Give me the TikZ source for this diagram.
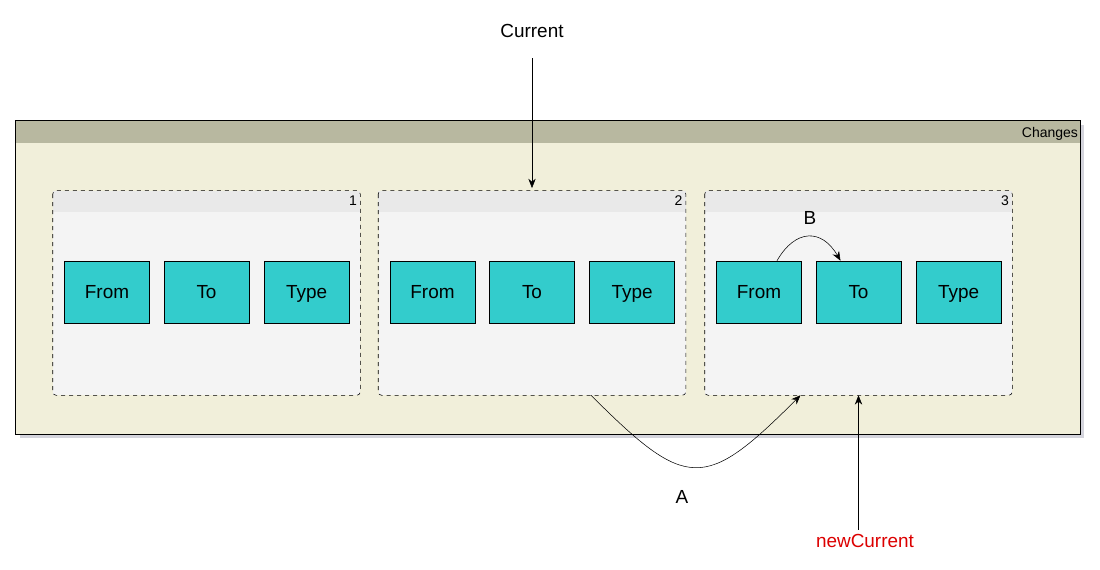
\documentclass[tikz,border=0pt]{standalone}
\usepackage{fontspec}
\setmainfont{Liberation Sans}
\usepackage{tikz}
\usetikzlibrary{positioning,calc,arrows.meta}
\usepackage{xcolor}

\definecolor{cellcyan}{RGB}{51,204,204}
\definecolor{groupbody}{RGB}{244,244,244}
\definecolor{grouphead}{RGB}{233,233,233}
\definecolor{outerbody}{RGB}{241,239,218}
\definecolor{outerhead}{RGB}{184,184,160}
\definecolor{shadowgrey}{RGB}{212,212,220}
\definecolor{newred}{RGB}{220,0,0}

\tikzset{
  cell/.style={draw, fill=cellcyan, minimum width=63.75pt, minimum height=46.5pt, inner sep=0pt, text height=10pt, text depth=0pt},
  group/.style={fill=groupbody, minimum width=230.25pt, minimum height=153pt, inner sep=0pt},
  tag/.style={font=\fontsize{10.5}{12}\selectfont, inner sep=1.5pt}
}

\begin{document}
\begin{tikzpicture}[x=0.75pt, y=-0.75pt, font=\fontsize{14.2}{16}\selectfont, >={Stealth[length=7pt,width=5.5pt]}]
 \useasboundingbox (0,0) rectangle (1100,570);

 % outer frame
 \fill[shadowgrey] (20,125) rectangle (1084,438);
 \node[fill=outerbody, minimum width=798pt, minimum height=234.75pt, inner sep=0pt] (changes) at (548,277.5) {};
 \fill[outerhead] (changes.north west) rectangle ($(changes.north east)+(0,22)$);
 \draw (changes.north west) rectangle (changes.south east);
 \node[tag, anchor=north east] (changesname) at ($(changes.north east)+(0,4)$) {Changes};

 % the three entries
 \foreach \n/\x in {1/206.5, 2/532, 3/858.5}{
  \node[group] (g\n) at (\x,293) {};
  \fill[grouphead] (g\n.north west) rectangle ($(g\n.north east)+(0,21)$);
  \draw[dashed, rounded corners=2.5pt] (g\n.north west) rectangle (g\n.south east);
  \node[tag, anchor=north east] (n\n) at ($(g\n.north east)+(-1,3)$) {\n};
  \node[cell] (to\n) at ($(g\n.center)+(0,-1)$) {To};
  \node[cell, left=10.5pt of to\n] (from\n) {From};
  \node[cell, right=11pt of to\n] (type\n) {Type};
 }

 \node (current) at (532,31) {Current};
 \node[text=newred] (newcurrent) at (865,541) {newCurrent};
 \node (a) at (682,497) {A};
 \node (b) at (810,218) {B};

 \draw[->, shorten <=12pt, shorten >=2pt] (current) -- (g2.north);
 \draw[->] (newcurrent.north -| g3.south) -- (g3.south);
 \draw[->] ($(g2.south)+(59,0)$) to[out=-45, in=-135, looseness=1.66] ($(g3.south)+(-58,0)$);
 \draw[->] ($(from3.north)+(18,0)$) to[out=60, in=120, looseness=1.5] ($(to3.north)+(-18,0)$);
\end{tikzpicture}
\end{document}
